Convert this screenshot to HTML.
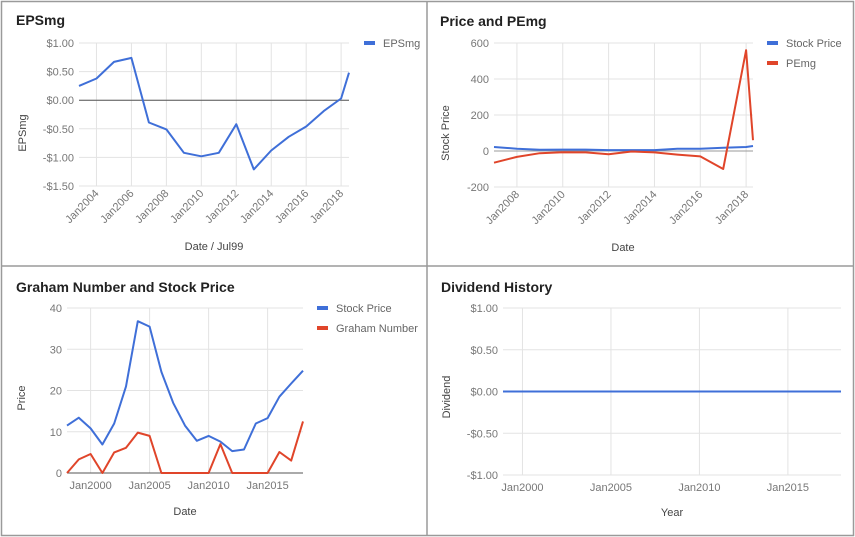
<!DOCTYPE html>
<html><head><meta charset="utf-8"><style>
body{margin:0;background:#fff;}
svg{display:block;font-family:"Liberation Sans",Arial,sans-serif;}
</style></head><body>
<svg id="s" width="855" height="537">
<rect x="0" y="0" width="855" height="537" fill="#fff"/>
<g stroke="#9a9a9a" stroke-width="1.5" fill="none">
<rect x="1.5" y="1.5" width="852" height="534"/>
<line x1="427" y1="1" x2="427" y2="536"/>
<line x1="1" y1="266" x2="854" y2="266"/>
</g>
</svg>
<script>
// Panel 1: EPSmg
const epsYears=[2003,2004,2005,2006,2007,2008,2009,2010,2011,2012,2013,2014,2015,2016,2017,2018,2018.45];
const epsValues=[0.25,0.38,0.67,0.74,-0.39,-0.51,-0.92,-0.98,-0.92,-0.42,-1.21,-0.88,-0.64,-0.46,-0.19,0.03,0.48];
const epsTicks=[1,0.5,0,-0.5,-1,-1.5];
const epsTickLabels=["$1.00","$0.50","$0.00","-$0.50","-$1.00","-$1.50"];
const epsXTicks=[2004,2006,2008,2010,2012,2014,2016,2018];
// Panel 2: Price and PEmg
const pYears=[2007,2008,2009,2010,2011,2012,2013,2014,2015,2016,2017,2018,2018.3];
const pPrice=[22,13,7,8,8,5,5,5,12,13,18,22,28];
const pPE=[-65,-33,-12,-7,-8,-18,-3,-8,-20,-30,-100,560,60];
const pTicks=[600,400,200,0,-200];
const pTickLabels=["600","400","200","0","-200"];
const pXTicks=[2008,2010,2012,2014,2016,2018];
// Panel 3: Graham
const gYears=[1998,1999,2000,2001,2002,2003,2004,2005,2006,2007,2008,2009,2010,2011,2012,2013,2014,2015,2016,2017,2018];
const gPrice=[11.5,13.4,10.8,6.9,12,21,36.8,35.5,24.5,17,11.5,7.8,9,7.6,5.3,5.7,12,13.3,18.5,21.7,24.8];
const gGraham=[0,3.3,4.6,0,5,6.1,9.8,9,0,0,0,0,0,7,0,0,0,0,5.1,3,12.5];
const gTicks=[40,30,20,10,0];
const gTickLabels=["40","30","20","10","0"];
const gXTicks=[2000,2005,2010,2015];
// Panel 4: Dividend
const dYears=[1998.9,2018];
const dValues=[0,0];
const dTicks=[1,0.5,0,-0.5,-1];
const dTickLabels=["$1.00","$0.50","$0.00","-$0.50","-$1.00"];
const dXTicks=[2000,2005,2010,2015];

const NS="http://www.w3.org/2000/svg";
const svg=document.getElementById('s');
function mk(tag,attrs,parent,txt){const e=document.createElementNS(NS,tag);for(const k in attrs)e.setAttribute(k,attrs[k]);if(txt!==undefined)e.textContent=txt;(parent||svg).appendChild(e);return e;}

function chart(c){
  const g=mk('g',{});
  
  
  const sx=v=>c.x0+(v-c.xmin)/(c.xmax-c.xmin)*(c.x1-c.x0);
  const sy=v=>c.y1-(v-c.ymin)/(c.ymax-c.ymin)*(c.y1-c.y0);
  const t=mk('text',{x:c.tx,y:c.ty,'font-size':14,'font-weight':'bold',fill:'#222'},g,c.title);
  
  
  c.yTicks.forEach((v,i)=>{
    const y=sy(v);
    const l=mk('line',{x1:c.x0,x2:c.x1,y1:y,y2:y,stroke:'#e3e3e3','stroke-width':1},g);
    
    
    const tl=mk('text',{x:c.x0-5,y:y+4,'font-size':11,fill:'#777','text-anchor':'end'},g,c.yLabels[i]);
    
    
  });
  c.xTicks.forEach(v=>{
    const x=sx(v);
    const l=mk('line',{x1:x,x2:x,y1:c.y0,y2:c.y1,stroke:'#e3e3e3','stroke-width':1},g);
    
    
    let tl;
    if(c.rot){
      tl=mk('text',{x:x+3,y:c.y1+8,'font-size':11,fill:'#777','text-anchor':'end',transform:`rotate(-45 ${x+3} ${c.y1+8})`},g,'Jan'+v);
    }else{
      tl=mk('text',{x:x,y:c.y1+16,'font-size':11,fill:'#777','text-anchor':'middle'},g,'Jan'+v);
    }
    
    
  });
  const z=sy(0);
  const zl=mk('line',{x1:c.x0,x2:c.x1,y1:z,y2:z,stroke:c.zeroColor||'#555','stroke-width':1},g);
  
  
  c.series.forEach((s,si)=>{
    const d=s.vals.map((v,i)=>(i?'L':'M')+sx(c.xs[i]).toFixed(1)+' '+sy(v).toFixed(1)).join(' ');
    const p=mk('path',{d:d,fill:'none',stroke:s.color,'stroke-width':2,'stroke-linejoin':'round'},g);
    
    
    if(c.lx){
      const ly=c.ly+si*20;
      const lg=mk('g',{},g);
      
      
      mk('rect',{x:c.lx,y:ly-2,width:11,height:4,fill:s.color},lg);
      mk('text',{x:c.lx+19,y:ly+4,'font-size':11,fill:'#666'},lg,s.label);
    }
  });
  const xt=mk('text',{x:c.xtx,y:c.xty,'font-size':11,fill:'#444','text-anchor':'middle'},g,c.xTitle);
  
  
  const yt=mk('text',{x:c.ytx,y:c.yty,'font-size':11,fill:'#444','text-anchor':'middle',transform:`rotate(-90 ${c.ytx} ${c.yty})`},g,c.yTitle);
  
  
}

chart({name:'epsmg-chart',title:'EPSmg',tx:16,ty:25,x0:79,x1:349,y0:43,y1:186,xmin:2003,xmax:2018.45,ymin:-1.5,ymax:1,
  yTicks:epsTicks,yLabels:epsTickLabels,xTicks:epsXTicks,rot:true,xs:epsYears,
  series:[{id:'epsmg',label:'EPSmg',vals:epsValues,color:'#3f6fd8'}],lx:364,ly:43,
  xTitle:'Date / Jul99',xtx:214,xty:250,yTitle:'EPSmg',ytx:26,yty:133});
chart({name:'price-pemg-chart',title:'Price and PEmg',tx:440,ty:26,x0:494,x1:753,y0:43,y1:187,xmin:2007,xmax:2018.3,ymin:-200,ymax:600,
  yTicks:pTicks,yLabels:pTickLabels,xTicks:pXTicks,rot:true,xs:pYears,zeroColor:'#999',
  series:[{id:'stock-price',label:'Stock Price',vals:pPrice,color:'#3f6fd8'},{id:'pemg',label:'PEmg',vals:pPE,color:'#e0452a'}],lx:767,ly:43,
  xTitle:'Date',xtx:623,xty:251,yTitle:'Stock Price',ytx:449,yty:133});
chart({name:'graham-chart',title:'Graham Number and Stock Price',tx:16,ty:292,x0:67,x1:303,y0:308,y1:473,xmin:1998,xmax:2018,ymin:0,ymax:40,
  yTicks:gTicks,yLabels:gTickLabels,xTicks:gXTicks,rot:false,xs:gYears,
  series:[{id:'stock-price',label:'Stock Price',vals:gPrice,color:'#3f6fd8'},{id:'graham-number',label:'Graham Number',vals:gGraham,color:'#e0452a'}],lx:317,ly:308,
  xTitle:'Date',xtx:185,xty:515,yTitle:'Price',ytx:25,yty:398});
chart({name:'dividend-chart',title:'Dividend History',tx:441,ty:292,x0:503,x1:841,y0:308,y1:475,xmin:1998.9,xmax:2018,ymin:-1,ymax:1,
  yTicks:dTicks,yLabels:dTickLabels,xTicks:dXTicks,rot:false,xs:dYears,zeroColor:'#e3e3e3',
  series:[{id:'dividend',label:'Dividend',vals:dValues,color:'#3f6fd8'}],
  xTitle:'Year',xtx:672,xty:516,yTitle:'Dividend',ytx:450,yty:397});
</script>
</body></html>
